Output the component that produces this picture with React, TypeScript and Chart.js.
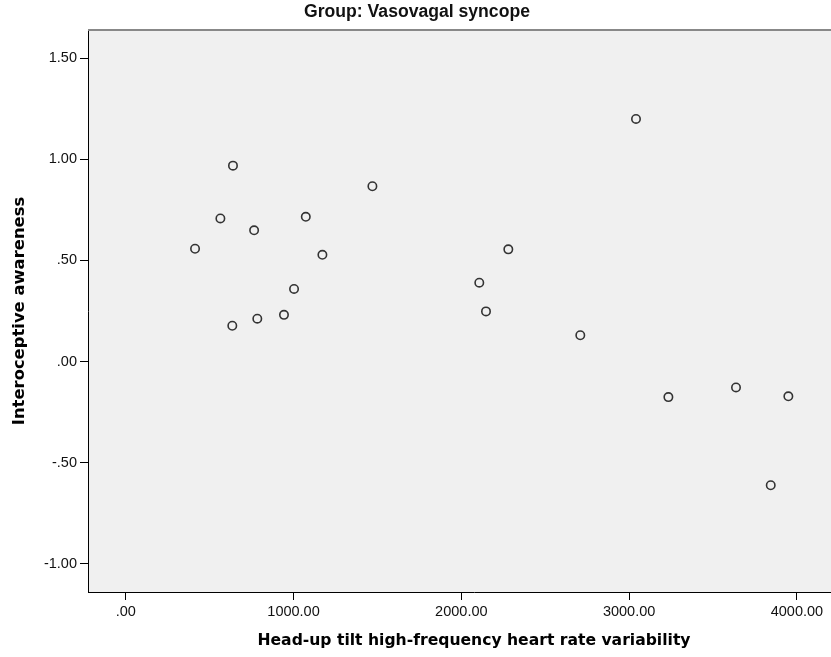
import React, { useEffect, useRef } from 'react';
import { Chart, registerables } from 'chart.js';

Chart.register(...registerables);

const HF_HRV = [413, 639, 564, 765, 635, 784, 943, 1003, 1073, 1172, 1470, 2107, 2147, 2280, 2709, 3041, 3234, 3637, 3844, 3949];
const AWARENESS = [0.558, 0.969, 0.708, 0.649, 0.177, 0.212, 0.231, 0.359, 0.716, 0.528, 0.867, 0.39, 0.248, 0.555, 0.13, 1.2, -0.176, -0.128, -0.612, -0.172];
const X_TICKS = [0, 1000, 2000, 3000, 4000];
const X_TICK_LABELS = ['.00', '1000.00', '2000.00', '3000.00', '4000.00'];
const Y_TICKS = [-1, -0.5, 0, 0.5, 1, 1.5];
const Y_TICK_LABELS = ['-1.00', '-.50', '.00', '.50', '1.00', '1.50'];
const TITLE = 'Group: Vasovagal syncope';
const X_TITLE = 'Head-up tilt high-frequency heart rate variability';
const Y_TITLE = 'Interoceptive awareness';

const TICK_FONT = { family: '"Liberation Sans", Arial, sans-serif', size: 14.5 };
const X_TITLE_FONT = { family: '"DejaVu Sans", Verdana, sans-serif', size: 15.6, weight: 'bold' as const };
const Y_TITLE_FONT = { family: '"DejaVu Sans", Verdana, sans-serif', size: 16.4, weight: 'bold' as const };

export default function App() {
  const ref = useRef<HTMLCanvasElement | null>(null);

  useEffect(() => {
    const canvas = ref.current;
    if (!canvas) return;

    const framePlugin = {
      id: 'frame',
      beforeDraw(chart: any) {
        const { ctx, chartArea } = chart;
        ctx.save();
        ctx.fillStyle = '#f0f0f0';
        ctx.fillRect(chartArea.left, chartArea.top, chartArea.right - chartArea.left, chartArea.bottom - chartArea.top);
        ctx.restore();
      },
      afterDraw(chart: any) {
        const { ctx, chartArea } = chart;
        ctx.save();
        ctx.fillStyle = '#888888';
        ctx.fillRect(chartArea.left, chartArea.top - 1, chartArea.right - chartArea.left, 2);
        ctx.fillStyle = '#111111';
        ctx.font = 'bold 17.6px "Liberation Sans", Arial, sans-serif';
        ctx.textAlign = 'center';
        ctx.textBaseline = 'middle';
        ctx.fillText(TITLE, 417, 12);
        ctx.restore();
      },
    };

    const chart = new Chart(canvas, {
      type: 'scatter',
      data: {
        datasets: [
          {
            data: HF_HRV.map((x, i) => ({ x, y: AWARENESS[i] })),
            pointRadius: 4.2,
            pointHoverRadius: 4.2,
            pointBorderWidth: 1.6,
            pointBorderColor: '#333333',
            pointBackgroundColor: 'rgba(0,0,0,0)',
            showLine: false,
          },
        ],
      },
      options: {
        responsive: false,
        animation: false,
        events: [],
        layout: { autoPadding: false, padding: { top: 30, left: 0, right: 0, bottom: 0 } },
        plugins: { legend: { display: false }, tooltip: { enabled: false }, title: { display: false } },
        scales: {
          x: {
            type: 'linear',
            min: -225,
            max: 4376,
            afterBuildTicks: (scale: any) => {
              scale.ticks = X_TICKS.map((v) => ({ value: v }));
            },
            afterFit: (scale: any) => {
              scale.height = 65;
              scale.paddingLeft = 0;
              scale.paddingRight = 0;
            },
            ticks: {
              font: TICK_FONT,
              color: '#111111',
              padding: 3,
              maxRotation: 0,
              autoSkip: false,
              callback: (v: any) => X_TICK_LABELS[X_TICKS.indexOf(Number(v))] ?? '',
            },
            grid: { drawOnChartArea: false, drawTicks: true, tickLength: 8, color: '#000000', lineWidth: 1 },
            border: { display: true, color: '#000000', width: 1 },
            title: { display: true, text: X_TITLE, font: X_TITLE_FONT, color: '#000000', padding: { top: 0, bottom: 7 } },
          },
          y: {
            type: 'linear',
            min: -1.14,
            max: 1.64,
            afterBuildTicks: (scale: any) => {
              scale.ticks = Y_TICKS.map((v) => ({ value: v }));
            },
            afterFit: (scale: any) => {
              scale.width = 88;
              scale.paddingTop = 0;
              scale.paddingBottom = 0;
            },
            ticks: {
              font: TICK_FONT,
              color: '#111111',
              padding: 3,
              autoSkip: false,
              callback: (v: any) => Y_TICK_LABELS[Y_TICKS.indexOf(Number(v))] ?? '',
            },
            grid: { drawOnChartArea: false, drawTicks: true, tickLength: 8, color: '#000000', lineWidth: 1 },
            border: { display: true, color: '#000000', width: 1 },
            title: { display: true, text: Y_TITLE, font: Y_TITLE_FONT, color: '#000000', padding: { top: 10, bottom: 0 } },
          },
        },
      },
      plugins: [framePlugin],
    });

    return () => chart.destroy();
  }, []);

  return (
    <div style={{ position: 'fixed', left: 0, top: 0, width: 831, height: 657, overflow: 'hidden', background: '#ffffff' }}>
      <canvas ref={ref} width={860} height={657} style={{ display: 'block', width: 860, height: 657 }} />
    </div>
  );
}
